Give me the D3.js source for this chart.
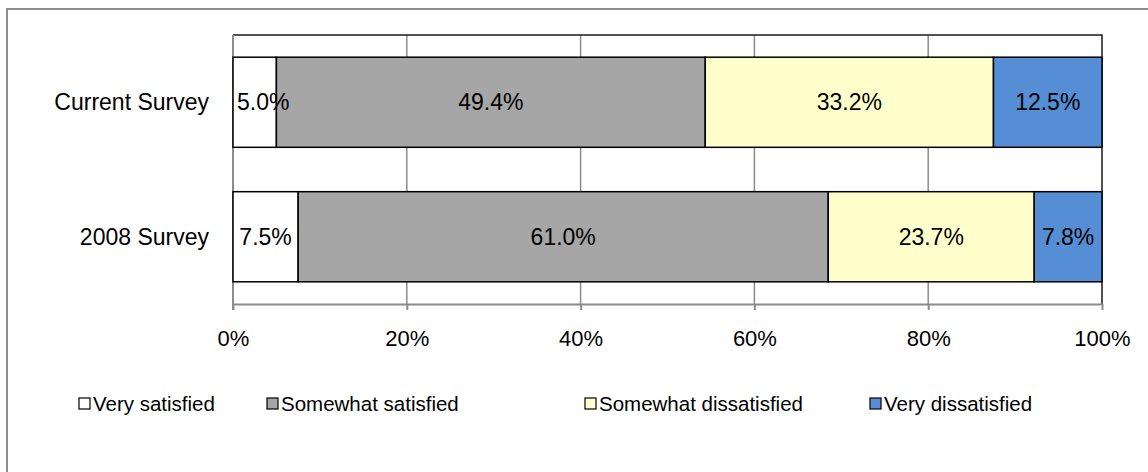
<!DOCTYPE html>
<html>
<head>
<meta charset="utf-8">
<title>Satisfaction survey</title>
<style>
  body { margin: 0; background: #fff; }
  svg { display: block; font-family: "Liberation Sans", Arial, sans-serif; }
</style>
</head>
<body>
<script src="https://cdn.jsdelivr.net/npm/d3@7"></script>
<script>
// chart data
var surveys = ["Current Survey", "2008 Survey"];
var levels = ["Very satisfied", "Somewhat satisfied", "Somewhat dissatisfied", "Very dissatisfied"];
var currentValues = [5.0, 49.4, 33.2, 12.5];
var survey2008Values = [7.5, 61.0, 23.7, 7.8];
var tickValues = [0, 0.2, 0.4, 0.6, 0.8, 1];
var colors = ["#ffffff", "#a6a6a6", "#ffffcc", "#558ed5"];

var width = 1148, height = 472;
var margin = {left: 233, right: 46, top: 35, bottom: 168};
var plotW = width - margin.left - margin.right,
    plotH = height - margin.top - margin.bottom;

// build table rows for d3.stack
var rows = surveys.map(function(s, i) {
  var vals = i === 0 ? currentValues : survey2008Values;
  var r = {survey: s};
  levels.forEach(function(l, j) { r[l] = vals[j]; });
  return r;
});

var stacked = d3.stack().keys(levels).offset(d3.stackOffsetExpand)(rows);

var svg = d3.select("body").append("svg")
    .attr("width", width)
    .attr("height", height);

// outer chart frame (runs off the right / bottom)
svg.append("rect")
    .attr("x", 7).attr("y", 9)
    .attr("width", 1160).attr("height", 500)
    .attr("fill", "none")
    .attr("stroke", "#8c8c8c")
    .attr("stroke-width", 2);

var x = d3.scaleLinear().domain([0, 1]).range([0, plotW]);
var y = d3.scaleBand().domain(surveys).range([0, plotH]).paddingInner(0.33).paddingOuter(0.165);

var g = svg.append("g").attr("transform", "translate(" + margin.left + "," + margin.top + ")");

// gridlines
g.selectAll(".grid").data(tickValues.slice(1, -1))
  .enter().append("line")
    .attr("x1", function(d) { return x(d); })
    .attr("x2", function(d) { return x(d); })
    .attr("y1", 0).attr("y2", plotH)
    .attr("stroke", "#8c8c8c")
    .attr("stroke-width", 1.5);

// plot top and right edges
g.append("path")
    .attr("d", "M0,0H" + plotW + "V" + plotH)
    .attr("fill", "none")
    .attr("stroke", "#1a1a1a")
    .attr("stroke-width", 1.5);

// x axis
var xAxis = g.append("g")
    .attr("transform", "translate(0," + plotH + ")")
    .call(d3.axisBottom(x).tickValues(tickValues).tickSize(6).tickSizeOuter(0)
      .tickFormat(d3.format(".0%")));
xAxis.select(".domain").attr("stroke", "#8c8c8c").attr("stroke-width", 2);
xAxis.selectAll(".tick line").attr("stroke", "#8c8c8c").attr("stroke-width", 2);
xAxis.selectAll(".tick text")
    .attr("font-size", 22).attr("fill", "#000")
    .attr("font-family", "'Liberation Sans', Arial, sans-serif")
    .attr("y", 26).attr("dy", "0.71em");

// left axis line
g.append("line")
    .attr("x1", 0).attr("x2", 0).attr("y1", 0).attr("y2", plotH + 6)
    .attr("stroke", "#8c8c8c").attr("stroke-width", 2);

// category labels
g.selectAll(".cat").data(surveys)
  .enter().append("text")
    .attr("x", -24)
    .attr("y", function(d) { return y(d) + y.bandwidth() / 2; })
    .attr("dy", "0.35em")
    .attr("text-anchor", "end")
    .attr("font-size", 23)
    .text(function(d) { return d; });

// bar segments
g.selectAll(".layer").data(stacked)
  .enter().append("g")
    .attr("fill", function(d, i) { return colors[i]; })
  .selectAll("rect").data(function(d) { return d; })
  .enter().append("rect")
    .attr("x", function(d) { return x(d[0]); })
    .attr("y", function(d) { return y(d.data.survey); })
    .attr("width", function(d) { return x(d[1]) - x(d[0]); })
    .attr("height", y.bandwidth())
    .attr("stroke", "#000")
    .attr("stroke-width", 1.5);

// value labels on top of all segments (kept inside the plot at the left edge)
var labels = [];
stacked.forEach(function(s) {
  s.forEach(function(d) { labels.push({key: s.key, seg: d}); });
});

g.append("g").selectAll("text").data(labels)
  .enter().append("text")
    .attr("y", function(d) { return y(d.seg.data.survey) + y.bandwidth() / 2; })
    .attr("dy", "0.35em")
    .attr("text-anchor", "middle")
    .attr("fill", "#000")
    .attr("font-size", 23)
    .text(function(d) { return d3.format(".1f")(d.seg.data[d.key]) + "%"; })
    .attr("x", function(d) {
      var half = this.getComputedTextLength() / 2;
      return Math.max((x(d.seg[0]) + x(d.seg[1])) / 2, half + 4);
    });

// legend
var legendX = [79, 267, 585, 870];
var legend = svg.selectAll(".legend").data(levels)
  .enter().append("g")
    .attr("transform", function(d, i) { return "translate(" + legendX[i] + ",398)"; });

legend.append("rect")
    .attr("width", 11).attr("height", 11)
    .attr("fill", function(d, i) { return colors[i]; })
    .attr("stroke", "#000")
    .attr("stroke-width", 1.2);

legend.append("text")
    .attr("x", 14).attr("y", 6)
    .attr("dy", "0.35em")
    .attr("font-size", 20.5)
    .text(function(d) { return d; });
</script>
</body>
</html>
